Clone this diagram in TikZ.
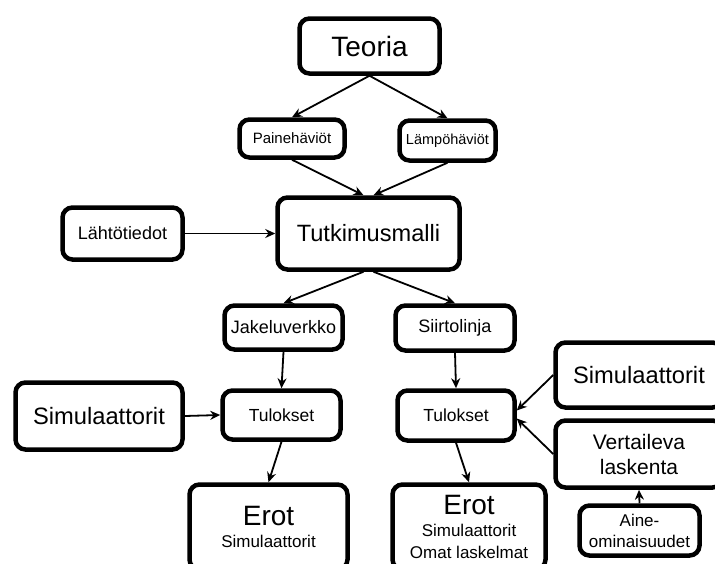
\documentclass[tikz,border=0pt]{standalone}
\usepackage{fontspec}
\setmainfont{Liberation Sans}
\usetikzlibrary{arrows.meta}

\newcommand{\fsz}[1]{\fontsize{#1}{1.2\dimexpr#1pt\relax}\selectfont}

\tikzset{
    box/.style={draw, line width=4.5pt, rounded corners=10pt, align=center, inner sep=0pt},
    flow/.style={-{Stealth[length=10pt,width=9pt]}, line width=1.8pt},
}

\begin{document}
\begin{tikzpicture}[x=1pt, y=-1pt]
    \useasboundingbox (0,0) rectangle (715,563);
    \clip (0,0) rectangle (715,563);

    \node[box, minimum width=140pt, minimum height=55pt, font=\fsz{28}] (teoria) at (369.5,46) {Teoria};
    \node[box, minimum width=105pt, minimum height=38pt, font=\fsz{15}] (paine) at (292,138.5) {Painehäviöt};
    \node[box, minimum width=96pt, minimum height=40pt, font=\fsz{14.5}] (lampo) at (447.5,140.5) {Lämpöhäviöt};

    \node[box, minimum width=182pt, minimum height=72pt, font=\fsz{23.6}] (malli) at (368.5,233.5) {Tutkimusmalli};
    \node[box, minimum width=120pt, minimum height=52pt, font=\fsz{18}] (lahto) at (122.5,233.5) {Lähtötiedot};

    \node[box, minimum width=118pt, minimum height=44pt, font=\fsz{18}] (jakelu) at (283.5,327.5) {Jakeluverkko};
    \node[box, minimum width=119pt, minimum height=45pt, font=\fsz{18}] (siirto) at (455,328) {Siirtolinja};

    \node[box, minimum width=118pt, minimum height=49pt, font=\fsz{17.5}] (tulosA) at (281.5,415) {Tulokset};
    \node[box, minimum width=117pt, minimum height=50pt, font=\fsz{17.5}] (tulosB) at (456,415.5) {Tulokset};

    \node[box, minimum width=167pt, minimum height=67pt, font=\fsz{23.7}] (simA) at (99,416) {Simulaattorit};
    \node[box, minimum width=167pt, minimum height=65pt, font=\fsz{23.7}] (simB) at (639,375) {Simulaattorit};
    \node[box, minimum width=167pt, minimum height=67pt, font=\fontsize{21}{25}\selectfont] (vert) at (639,454) {Vertaileva\\laskenta};
    \node[box, minimum width=120pt, minimum height=50pt, font=\fontsize{17}{21}\selectfont] (aine) at (639.5,530.5) {Aine-\\ominaisuudet};

    \node[box, minimum width=158pt, minimum height=85pt, font=\fontsize{17}{22}\selectfont] (erotA) at (268.5,527)
        {{\fontsize{28}{22}\selectfont Erot}\\Simulaattorit};
    \node[box, minimum width=153pt, minimum height=85pt, font=\fontsize{17}{22}\selectfont] (erotB) at (469,527)
        {{\fontsize{28}{22}\selectfont Erot}\\Simulaattorit\\Omat laskelmat};

    % yhteydet
    \draw[flow] (teoria.south) -- (paine.north);
    \draw[flow] (teoria.south) -- (lampo.north);
    \draw[flow] (paine.south) -- ([xshift=-5pt]malli.north);
    \draw[flow] (lampo.south) -- ([xshift=5pt]malli.north);
    \draw[flow] (lahto.east) -- (malli.west);
    \draw[flow] ([xshift=-5pt]malli.south) -- (jakelu.north);
    \draw[flow] ([xshift=5pt]malli.south) -- (siirto.north);
    \draw[flow] (jakelu.south) -- (tulosA.north);
    \draw[flow] (siirto.south) -- (tulosB.north);
    \draw[flow] (simA.east) -- (tulosA.west);
    \draw[flow] (simB.west) -- ([yshift=5pt]tulosB.east);
    \draw[flow] (vert.west) -- ([yshift=-3pt]tulosB.east);
    \draw[flow] (aine.north) -- (vert.south);
    \draw[flow] (tulosA.south) -- (erotA.north);
    \draw[flow] (tulosB.south) -- (erotB.north);
\end{tikzpicture}
\end{document}
